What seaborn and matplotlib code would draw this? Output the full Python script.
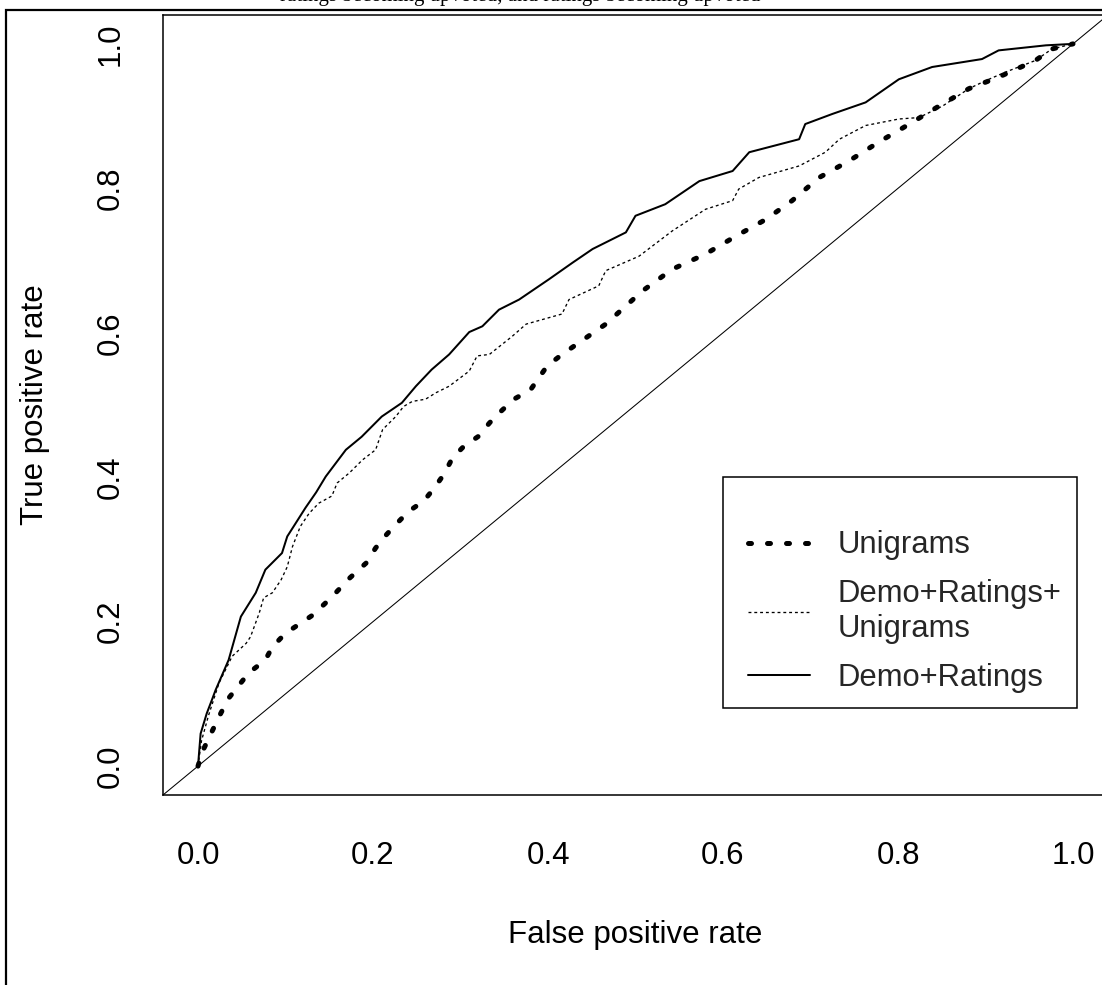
import numpy as np
import pandas as pd
import matplotlib
matplotlib.use("Agg")
import matplotlib.pyplot as plt
import seaborn as sns
from matplotlib.patches import Rectangle
from matplotlib.lines import Line2D
from matplotlib.legend_handler import HandlerLine2D

# ---------------- data ----------------
uni_fpr = [0, 0.005, 0.016, 0.026, 0.035, 0.058, 0.077, 0.085, 0.100, 0.115, 0.131, 0.152,
           0.173, 0.192, 0.203, 0.215, 0.228, 0.241, 0.258, 0.270, 0.281, 0.291, 0.304,
           0.321, 0.333, 0.346, 0.361, 0.380, 0.399, 0.416, 0.466, 0.508, 0.542, 0.580,
           0.615, 0.649, 0.679, 0.710, 0.744, 0.778, 0.813, 0.847, 0.881, 0.915, 0.957,
           0.976, 1.0]
uni_tpr = [0, 0.020, 0.048, 0.073, 0.094, 0.129, 0.147, 0.165, 0.184, 0.196, 0.209, 0.233,
           0.260, 0.281, 0.302, 0.320, 0.337, 0.353, 0.367, 0.385, 0.404, 0.427, 0.443,
           0.457, 0.475, 0.491, 0.508, 0.521, 0.554, 0.570, 0.612, 0.658, 0.688, 0.709,
           0.734, 0.757, 0.783, 0.815, 0.838, 0.864, 0.889, 0.914, 0.938, 0.954, 0.977,
           0.993, 1.0]

dru_fpr = [0, 0.004, 0.012, 0.024, 0.039, 0.055, 0.060, 0.070, 0.075, 0.085, 0.095, 0.102,
           0.108, 0.117, 0.127, 0.138, 0.153, 0.159, 0.173, 0.188, 0.203, 0.211, 0.226,
           0.235, 0.245, 0.260, 0.272, 0.287, 0.310, 0.319, 0.333, 0.359, 0.375, 0.416,
           0.424, 0.458, 0.466, 0.504, 0.542, 0.580, 0.611, 0.618, 0.641, 0.687, 0.717,
           0.733, 0.763, 0.801, 0.824, 0.851, 0.881, 0.900, 0.923, 0.957, 0.976, 1.0]
dru_tpr = [0, 0.035, 0.070, 0.115, 0.152, 0.170, 0.179, 0.212, 0.233, 0.240, 0.258, 0.276,
           0.304, 0.332, 0.350, 0.364, 0.374, 0.392, 0.406, 0.424, 0.438, 0.466, 0.484,
           0.498, 0.505, 0.508, 0.517, 0.526, 0.547, 0.568, 0.570, 0.595, 0.612, 0.626,
           0.646, 0.665, 0.686, 0.706, 0.741, 0.771, 0.783, 0.799, 0.815, 0.831, 0.850,
           0.868, 0.887, 0.896, 0.898, 0.914, 0.938, 0.949, 0.961, 0.977, 0.993, 1.0]

dr_fpr = [0, 0.003, 0.010, 0.016, 0.020, 0.035, 0.049, 0.066, 0.077, 0.096, 0.102, 0.112,
          0.123, 0.135, 0.146, 0.169, 0.187, 0.210, 0.233, 0.249, 0.267, 0.287, 0.310,
          0.325, 0.344, 0.367, 0.401, 0.428, 0.451, 0.489, 0.500, 0.534, 0.573, 0.611,
          0.630, 0.687, 0.694, 0.725, 0.763, 0.801, 0.839, 0.896, 0.915, 0.969, 1.0]
dr_tpr = [0, 0.045, 0.073, 0.092, 0.105, 0.147, 0.207, 0.240, 0.272, 0.295, 0.318, 0.337,
          0.358, 0.379, 0.401, 0.438, 0.456, 0.484, 0.503, 0.526, 0.549, 0.570, 0.601,
          0.609, 0.632, 0.646, 0.674, 0.697, 0.716, 0.739, 0.762, 0.778, 0.810, 0.824,
          0.850, 0.868, 0.889, 0.903, 0.919, 0.951, 0.968, 0.979, 0.991, 0.998, 1.0]

series_names = ["Unigrams", "Demo+Ratings+\nUnigrams", "Demo+Ratings"]
tick_values = [0.0, 0.2, 0.4, 0.6, 0.8, 1.0]
tick_labels = ["0.0", "0.2", "0.4", "0.6", "0.8", "1.0"]

# ---------------- style ----------------
sns.set_theme(style="white")
plt.rcParams["font.family"] = ["Liberation Sans", "DejaVu Sans"]

W, H = 1102, 985
fig = plt.figure(figsize=(W / 100, H / 100), dpi=100)
fig.patch.set_facecolor("white")

# outer frame of the clipped page
fig.patches.append(Rectangle((6 / W, -0.05), 1.1, 1 - 10 / H + 0.05,
                             transform=fig.transFigure, fill=False,
                             edgecolor="black", lw=1.6))
# clipped caption text at top (only its lower part is visible)
fig.text(520 / W, 1 - 1.5 / H, "ratings becoming upvoted, and ratings becoming upvoted",
         ha="center", va="baseline", fontsize=15, color="black",
         family=["Liberation Serif", "DejaVu Serif"])

ax = fig.add_axes([163 / W, 1 - 795 / H, 945 / W, 780 / H])
ax.set_facecolor("white")

styles = {
    "Unigrams": dict(lw=3.6, dashes=(0.6, 3.2), dash_capstyle="round"),
    "Demo+Ratings+\nUnigrams": dict(lw=0.95, dashes=(2.2, 2.2)),
    "Demo+Ratings": dict(lw=1.45),
}

data = [(uni_fpr, uni_tpr), (dru_fpr, dru_tpr), (dr_fpr, dr_tpr)]
for name, (fx, ty) in zip(series_names, data):
    df = pd.DataFrame({"fpr": fx, "tpr": ty})
    sns.lineplot(data=df, x="fpr", y="tpr", ax=ax, sort=False, estimator=None,
                 color="black", legend=False)
    ln = ax.lines[-1]
    st = styles[name]
    ln.set_linewidth(st["lw"])
    if "dashes" in st:
        ln.set_dashes(st["dashes"])
    if "dash_capstyle" in st:
        ln.set_dash_capstyle(st["dash_capstyle"])

ax.axline((0, 0), (1, 1), color="black", lw=0.75)

ax.set_xlim(-0.04, 1.04)
ax.set_ylim(-0.04, 1.04)
ax.set_xticks(tick_values)
ax.set_xticklabels(tick_labels)
ax.set_yticks(tick_values)
ax.set_yticklabels(tick_labels, rotation=90, va="center")
ax.tick_params(axis="both", direction="out", length=13, width=1.1, color="black",
               labelsize=22.5, labelcolor="black")
ax.tick_params(axis="x", pad=20)
ax.tick_params(axis="y", pad=14)
for sp in ax.spines.values():
    sp.set_visible(True)
    sp.set_color("black")
    sp.set_linewidth(1.1)

ax.set_xlabel("False positive rate", fontsize=22.5, labelpad=35.5, color="black")
ax.set_ylabel("True positive rate", fontsize=22.5, labelpad=33, color="black")

handles = []
for name in series_names:
    st = styles[name]
    h = Line2D([0], [0], color="black", lw=st["lw"])
    if "dashes" in st:
        h.set_dashes(st["dashes"])
    if "dash_capstyle" in st:
        h.set_dash_capstyle(st["dash_capstyle"])
    handles.append(h)

leg = ax.legend(handles, series_names, loc="upper left",
                bbox_to_anchor=(723 / W, 1 - 477 / H), bbox_transform=fig.transFigure,
                borderaxespad=0, fontsize=22.3, frameon=True, fancybox=False,
                shadow=False, framealpha=1, edgecolor="black", borderpad=0.5,
                handlelength=2.3, handletextpad=0.91, labelspacing=0.61,
                title=" ", title_fontsize=15,
                handler_map={Line2D: HandlerLine2D(xpad=0.32)})
leg.get_frame().set_linewidth(1.1)
for t in leg.get_texts():
    t.set_linespacing(1.2)

fig.savefig("out.png", dpi=100, facecolor="white")
